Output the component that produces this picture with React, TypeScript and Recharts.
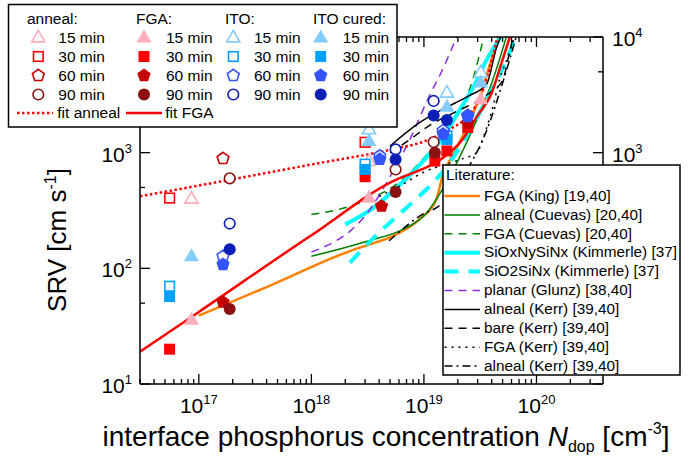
import React from 'react';
import { ComposedChart, Line, Scatter, XAxis, YAxis } from 'recharts';

const FONT = 'Arial, "Liberation Sans", sans-serif';

// axis ticks
const xDecades = [1e16, 1e17, 1e18, 1e19, 1e20];
const xMajor = [1e17, 1e18, 1e19, 1e20];
const yTicks = [10, 50, 100, 500, 1000, 5000, 10000];
const yMajor = [10, 100, 1000, 10000];
const yLeftLabels = [10, 100, 1000]; // 10^4 sits under the top legend box
const yRightLabels = [1000, 10000]; // lower ones sit under the literature box
const xTicks = xDecades
  .flatMap((d) => [1, 2, 3, 4, 5, 6, 7, 8, 9].map((m) => m * d))
  .filter((v) => v >= 3e16 && v <= 3.9e20);

// measured points [N_dop, SRV]
const anneal15 = [[8.6e16, 400], [3.25e18, 845]];
const anneal30 = [[5.5e16, 405], [3.0e18, 1230]];
const anneal60 = [[1.64e17, 890]];
const anneal90 = [[1.88e17, 600], [5.6e18, 716], [1.22e19, 1236]];

const fga15 = [[8.6e16, 36], [3.25e18, 407], [3.2e19, 2900]];
const fga30 = [[5.5e16, 20], [3.0e18, 620], [1.25e19, 845], [1.6e19, 1035], [2.45e19, 1650]];
const fga60 = [[1.64e17, 51], [4.2e18, 345], [2.45e19, 1800]];
const fga90 = [[1.88e17, 44.6], [5.6e18, 456], [1.25e19, 1000]];

const ito15 = [[3.25e18, 1590], [1.6e19, 3300], [3.2e19, 4930]];
const ito30 = [[5.5e16, 70], [3.0e18, 795], [1.6e19, 1400]];
const ito60 = [[1.64e17, 127], [4.05e18, 935], [1.48e19, 1550], [2.45e19, 2100]];
const ito90 = [[1.88e17, 244], [5.6e18, 1067], [1.22e19, 2800]];

const cured15 = [[8.6e16, 127], [3.25e18, 1260], [1.6e19, 2500], [3.2e19, 4040]];
const cured30 = [[5.5e16, 57], [3.0e18, 716], [1.6e19, 1300]];
const cured60 = [[1.64e17, 108], [4.05e18, 875], [1.48e19, 1450], [2.45e19, 2050]];
const cured90 = [[1.88e17, 146], [5.6e18, 873], [1.22e19, 2100], [1.6e19, 1915]];

// fits
const fitAnneal = [[3e16, 420], [1e17, 520], [1e18, 790], [5e18, 1060], [1e19, 1250], [1.7e19, 1600], [2.5e19, 2100], [3.2e19, 3100], [3.8e19, 5200], [4.5e19, 10000]];
const fitFGA = [[3e16, 19], [1e17, 42], [1e18, 193], [6e18, 600], [9e18, 700], [1.4e19, 870], [2.2e19, 1300], [3e19, 2100], [3.9e19, 3100], [4.9e19, 6000], [5.8e19, 10000]];

// literature
const kingFGA = [[1e17, 39], [4.3e17, 71], [2.2e18, 141], [3.3e18, 161], [5.3e18, 190], [9.1e18, 265], [1.29e19, 395], [1.44e19, 590], [2e19, 1150], [2.5e19, 1800], [3.3e19, 3500], [4e19, 6500], [4.6e19, 10000]];
const cuevasAlneal = [[1e18, 127], [3.3e18, 174], [6.5e18, 217], [1.05e19, 300], [1.4e19, 450], [2e19, 850], [3e19, 2000], [4e19, 4000], [5.4e19, 10000]];
const cuevasFGA = [[1e18, 292], [2.7e18, 369], [6.5e18, 590], [1e19, 900], [1.5e19, 1400], [2e19, 2100], [2.7e19, 4200], [3.4e19, 10000]];
const kimmerleSiOxNy = [[2e18, 240], [3.5e18, 330], [6e18, 520], [9e18, 770], [1.5e19, 1400], [2e19, 2200], [2.8e19, 3800], [3.5e19, 6000], [4.8e19, 10000]];
const kimmerleSiO2 = [[2.2e18, 112], [3.5e18, 180], [6e18, 292], [9e18, 417], [1.5e19, 700], [2.5e19, 1500], [4e19, 3500], [5.4e19, 6300], [6.5e19, 10000]];
const glunzPlanar = [[1e18, 138], [3.3e18, 322], [5e18, 620], [7.5e18, 1300], [1.1e19, 3000], [1.5e19, 5500], [1.95e19, 10000]];
const kerrAlneal = [[5e18, 1140], [9e18, 1800], [1.5e19, 2400], [2.5e19, 3100], [3.6e19, 3900], [4.4e19, 8000], [4.8e19, 10000]];
const kerrBare = [[5e18, 1000], [7.5e18, 1300], [1.1e19, 1700], [2e19, 2300], [3e19, 2800], [4e19, 3400], [5e19, 4200], [5.7e19, 7000], [6.2e19, 10000]];
const kerrFGA = [[4e18, 420], [6.3e18, 525], [1e19, 680], [1.6e19, 800], [2.3e19, 900], [2.95e19, 1000], [3.5e19, 1500], [4.1e19, 2500], [4.7e19, 4300], [5.5e19, 6500], [6.4e19, 10000]];
const kerrAlneal2 = [[4.9e18, 173], [9e18, 280], [1.44e19, 363], [2.2e19, 620], [3.6e19, 1550], [5e19, 4000], [6.6e19, 10000]];

const pts = (a: number[][]) => a.map(([x, y]) => ({ x, y }));

const C15a = '#FFADB9';
const C30a = '#FF0000';
const C60a = '#C40000';
const C90a = '#8C1010';
const C15i = '#82CCFF';
const C30i = '#00A0FF';
const C60i = '#3553FF';
const C90i = '#0A1EB8';

type Kind = 'tri' | 'sq' | 'pent' | 'circ';

function Marker({ cx, cy, kind, color, filled }: { cx: number; cy: number; kind: Kind; color: string; filled: boolean }) {
  const fill = filled ? color : '#fff';
  const sw = filled ? 0 : 1.6;
  if (kind === 'tri') {
    const s = filled ? 1 : 0.88;
    const p = `${cx},${cy - 8 * s} ${cx - 7.5 * s},${cy + 5 * s} ${cx + 7.5 * s},${cy + 5 * s}`;
    return <polygon points={p} fill={fill} stroke={color} strokeWidth={sw} />;
  }
  if (kind === 'sq') {
    const h = filled ? 5.5 : 4.8;
    return <rect x={cx - h} y={cy - h} width={2 * h} height={2 * h} fill={fill} stroke={color} strokeWidth={sw} />;
  }
  if (kind === 'pent') {
    const r = filled ? 7 : 6.2;
    const p = [0, 1, 2, 3, 4]
      .map((k) => {
        const a = ((-90 + k * 72) * Math.PI) / 180;
        return `${cx + r * Math.cos(a)},${cy + r * Math.sin(a)}`;
      })
      .join(' ');
    return <polygon points={p} fill={fill} stroke={color} strokeWidth={sw} />;
  }
  return <circle cx={cx} cy={cy} r={filled ? 6 : 5.3} fill={fill} stroke={color} strokeWidth={sw} />;
}

const scatterSeries = [
  { name: 'anneal 15', data: anneal15, kind: 'tri', color: C15a, filled: false },
  { name: 'anneal 30', data: anneal30, kind: 'sq', color: C30a, filled: false },
  { name: 'anneal 60', data: anneal60, kind: 'pent', color: C60a, filled: false },
  { name: 'anneal 90', data: anneal90, kind: 'circ', color: C90a, filled: false },
  { name: 'FGA 15', data: fga15, kind: 'tri', color: C15a, filled: true },
  { name: 'FGA 30', data: fga30, kind: 'sq', color: C30a, filled: true },
  { name: 'FGA 60', data: fga60, kind: 'pent', color: C60a, filled: true },
  { name: 'FGA 90', data: fga90, kind: 'circ', color: C90a, filled: true },
  { name: 'ITO 15', data: ito15, kind: 'tri', color: C15i, filled: false },
  { name: 'ITO 30', data: ito30, kind: 'sq', color: C30i, filled: false },
  { name: 'ITO 60', data: ito60, kind: 'pent', color: C60i, filled: false },
  { name: 'ITO 90', data: ito90, kind: 'circ', color: C90i, filled: false },
  { name: 'ITO cured 15', data: cured15, kind: 'tri', color: C15i, filled: true },
  { name: 'ITO cured 30', data: cured30, kind: 'sq', color: C30i, filled: true },
  { name: 'ITO cured 60', data: cured60, kind: 'pent', color: C60i, filled: true },
  { name: 'ITO cured 90', data: cured90, kind: 'circ', color: C90i, filled: true },
] as { name: string; data: number[][]; kind: Kind; color: string; filled: boolean }[];

const litSeries = [
  { name: 'FGA (King) [19,40]', data: kingFGA, color: '#FF8000', width: 2.5, dash: undefined },
  { name: 'alneal (Cuevas) [20,40]', data: cuevasAlneal, color: '#008000', width: 1.5, dash: undefined },
  { name: 'FGA (Cuevas) [20,40]', data: cuevasFGA, color: '#008000', width: 1.5, dash: '8 6' },
  { name: 'SiOxNySiNx (Kimmerle) [37]', data: kimmerleSiOxNy, color: '#00FFFF', width: 4, dash: undefined },
  { name: 'SiO2SiNx (Kimmerle) [37]', data: kimmerleSiO2, color: '#00FFFF', width: 4, dash: '14 10' },
  { name: 'planar (Glunz) [38,40]', data: glunzPlanar, color: '#8A2BE2', width: 1.5, dash: '8 6' },
  { name: 'alneal (Kerr) [39,40]', data: kerrAlneal, color: '#000', width: 1.5, dash: undefined },
  { name: 'bare (Kerr) [39,40]', data: kerrBare, color: '#000', width: 1.5, dash: '8 6' },
  { name: 'FGA (Kerr) [39,40]', data: kerrFGA, color: '#000', width: 1.5, dash: '2 5' },
  { name: 'alneal (Kerr) [39,40]', data: kerrAlneal2, color: '#000', width: 1.5, dash: '8 4 2 4' },
] as { name: string; data: number[][]; color: string; width: number; dash?: string }[];

const near = (v: number, list: number[]) => list.some((m) => Math.abs(v / m - 1) < 1e-6);
const expOf = (v: number) => Math.round(Math.log10(v));

const BottomTick = (p: any) => {
  const v = p.payload.value;
  const major = near(v, xMajor);
  return (
    <g>
      <line x1={p.x} x2={p.x} y1={p.y} y2={p.y - (major ? 10 : 5)} stroke="#000" strokeWidth={1.3} />
      {major && (
        <text x={p.x} y={p.y + 29} textAnchor="middle" fontFamily={FONT} fontSize={21} fill="#000">
          10<tspan dy={-9} fontSize={13}>{expOf(v)}</tspan>
        </text>
      )}
    </g>
  );
};

const TopTick = (p: any) => {
  const major = near(p.payload.value, xMajor);
  return <line x1={p.x} x2={p.x} y1={p.y} y2={p.y + (major ? 10 : 5)} stroke="#000" strokeWidth={1.3} />;
};

const LeftTick = (p: any) => {
  const v = p.payload.value;
  const major = near(v, yMajor);
  return (
    <g>
      <line x1={p.x} x2={p.x + (major ? 10 : 5)} y1={p.y} y2={p.y} stroke="#000" strokeWidth={1.3} />
      {near(v, yLeftLabels) && (
        <text x={p.x - 8} y={p.y + 9} textAnchor="end" fontFamily={FONT} fontSize={21} fill="#000">
          10<tspan dy={-9} fontSize={13}>{expOf(v)}</tspan>
        </text>
      )}
    </g>
  );
};

const RightTick = (p: any) => {
  const v = p.payload.value;
  const major = near(v, yMajor);
  return (
    <g>
      <line x1={p.x} x2={p.x - (major ? 10 : 5)} y1={p.y} y2={p.y} stroke="#000" strokeWidth={1.3} />
      {near(v, yRightLabels) && (
        <text x={p.x + 9} y={p.y + 9} textAnchor="start" fontFamily={FONT} fontSize={21} fill="#000">
          10<tspan dy={-9} fontSize={13}>{expOf(v)}</tspan>
        </text>
      )}
    </g>
  );
};

const axisLine = { stroke: '#000', strokeWidth: 1.5 };

const legendCols = [
  { title: 'anneal:', tx: 27, mx: 38.3, lx: 58.3, color: [C15a, C30a, C60a, C90a], filled: false },
  { title: 'FGA:', tx: 136, mx: 144, lx: 166, color: [C15a, C30a, C60a, C90a], filled: true },
  { title: 'ITO:', tx: 225, mx: 233.3, lx: 254, color: [C15i, C30i, C60i, C90i], filled: false },
  { title: 'ITO cured:', tx: 313, mx: 320.7, lx: 342.7, color: [C15i, C30i, C60i, C90i], filled: true },
];
const legendRows = ['15 min', '30 min', '60 min', '90 min'];
const legendKinds: Kind[] = ['tri', 'sq', 'pent', 'circ'];

export default function App() {
  return (
    <div style={{ position: 'absolute', left: 0, top: 0, width: 700, height: 457, background: '#fff' }}>
      <ComposedChart width={700} height={457} margin={{ top: 0, right: 0, bottom: 0, left: 0 }}>
        <XAxis xAxisId="b" dataKey="x" type="number" scale="log" domain={[3e16, 3.9e20]} allowDataOverflow ticks={xTicks} interval={0} tick={<BottomTick />} tickLine={false} tickSize={0} tickMargin={0} height={73} axisLine={axisLine} />
        <XAxis xAxisId="t" orientation="top" dataKey="x" type="number" scale="log" domain={[3e16, 3.9e20]} allowDataOverflow ticks={xTicks} interval={0} tick={<TopTick />} tickLine={false} tickSize={0} tickMargin={0} height={37} axisLine={axisLine} />
        <YAxis yAxisId="l" dataKey="y" type="number" scale="log" domain={[10, 10000]} allowDataOverflow ticks={yTicks} interval={0} tick={<LeftTick />} tickLine={false} tickSize={0} tickMargin={0} width={140} axisLine={axisLine} />
        <YAxis yAxisId="r" orientation="right" dataKey="y" type="number" scale="log" domain={[10, 10000]} allowDataOverflow ticks={yTicks} interval={0} tick={<RightTick />} tickLine={false} tickSize={0} tickMargin={0} width={97} axisLine={axisLine} />
        {litSeries.map((s, i) => (
          <Line key={'lit' + i} xAxisId="b" yAxisId="l" data={pts(s.data)} dataKey="y" type="monotone" stroke={s.color} strokeWidth={s.width} strokeDasharray={s.dash} dot={false} isAnimationActive={false} />
        ))}
        <Line xAxisId="b" yAxisId="l" data={pts(fitAnneal)} dataKey="y" type="monotone" stroke="#FF0000" strokeWidth={2.5} strokeDasharray="2.5 2.5" dot={false} isAnimationActive={false} />
        <Line xAxisId="b" yAxisId="l" data={pts(fitFGA)} dataKey="y" type="monotone" stroke="#FF0000" strokeWidth={2.5} dot={false} isAnimationActive={false} />
        {scatterSeries.map((s) => (
          <Scatter key={s.name} name={s.name} xAxisId="b" yAxisId="l" data={pts(s.data)} isAnimationActive={false}
            shape={(p: any) => <Marker cx={p.cx} cy={p.cy} kind={s.kind} color={s.color} filled={s.filled} />} />
        ))}
      </ComposedChart>
      <svg width={700} height={457} style={{ position: 'absolute', left: 0, top: 0, pointerEvents: 'none' }} fontFamily={FONT}>
        <text transform="translate(66,240) rotate(-90)" textAnchor="middle" fontSize={26} fill="#000">
          SRV [cm s<tspan dy={-10} fontSize={16}>-1</tspan><tspan dy={10}>]</tspan>
        </text>
        <text x={386} y={446} textAnchor="middle" fontSize={28} fill="#000">
          interface phosphorus concentration <tspan fontStyle="italic">N</tspan>
          <tspan fontSize={16} dy={6}>dop</tspan>
          <tspan dy={-6}> [cm</tspan>
          <tspan fontSize={16} dy={-12}>-3</tspan>
          <tspan dy={12}>]</tspan>
        </text>

        <rect x={8.5} y={4.5} width={388.5} height={122.5} fill="#fff" stroke="#000" strokeWidth={1.5} />
        {legendCols.map((c) => (
          <g key={c.title}>
            <text x={c.tx} y={24} fontSize={15.5} fill="#000">{c.title}</text>
            {legendRows.map((r, i) => (
              <g key={r}>
                <Marker cx={c.mx} cy={37.5 + i * 19} kind={legendKinds[i]} color={c.color[i]} filled={c.filled} />
                <text x={c.lx} y={42.7 + i * 19} fontSize={15.5} fill="#000">{r}</text>
              </g>
            ))}
          </g>
        ))}
        <line x1={17} x2={53} y1={113} y2={113} stroke="#FF0000" strokeWidth={2.5} strokeDasharray="2.5 2.5" />
        <text x={57.3} y={118.3} fontSize={15.5} fill="#000">fit anneal</text>
        <line x1={126} x2={162} y1={113} y2={113} stroke="#FF0000" strokeWidth={2.5} />
        <text x={165.3} y={118.3} fontSize={15.5} fill="#000">fit FGA</text>

        <rect x={443} y={165} width={237} height={210} fill="#fff" stroke="#000" strokeWidth={1.5} />
        <text x={446} y={180} fontSize={15.3} fill="#000">Literature:</text>
        {litSeries.map((s, i) => (
          <g key={'lg' + i}>
            <line x1={444.5} x2={480} y1={196 + i * 18.9} y2={196 + i * 18.9} stroke={s.color} strokeWidth={s.width} strokeDasharray={s.dash} />
            <text x={484} y={200.7 + i * 18.9} fontSize={15.3} fill="#000">{s.name}</text>
          </g>
        ))}
      </svg>
    </div>
  );
}
